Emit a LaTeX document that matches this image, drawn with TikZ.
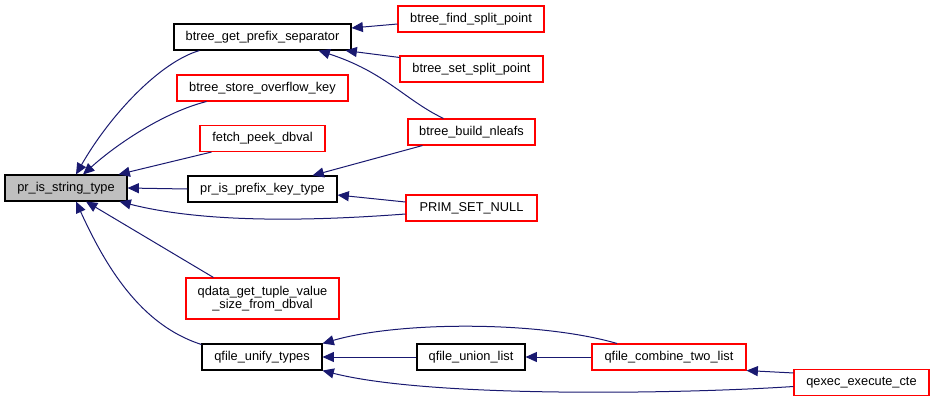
\documentclass[tikz,border=0pt]{standalone}
\usepackage{fontspec}
\setmainfont{Liberation Sans}
\usetikzlibrary{arrows.meta,calc}
\definecolor{edgeblue}{RGB}{25,25,112}
\definecolor{rootgray}{RGB}{191,191,191}

\begin{document}
\begin{tikzpicture}[x=0.75pt,y=-0.75pt,
    fn/.style={draw=black, line width=0.8pt, inner sep=0pt, minimum height=19.5pt,
        font=\fontsize{9.6}{9.75}\selectfont, align=center},
    ext/.style={fn, draw=red},
    call/.style={edgeblue, line width=0.75pt, -{Triangle[length=8.5pt,width=7.5pt]}}]
    \useasboundingbox (0,0) rectangle (935,401);
    % Root function
    \node[fn, fill=rootgray, minimum width=91.5pt] (str) at (66,188) {pr\_is\_string\_type};
    % Direct callers
    \node[fn,  minimum width=132.75pt] (sep)   at (262.5,37)    {btree\_get\_prefix\_separator};
    \node[ext, minimum width=128.25pt] (ovf)   at (262.5,88)    {btree\_store\_overflow\_key};
    \node[ext, minimum width=93.75pt]  (peek)  at (262.5,138.5) {fetch\_peek\_dbval};
    \node[fn,  minimum width=111.75pt] (pfx)   at (262.5,189)   {pr\_is\_prefix\_key\_type};
    \node[ext, minimum width=114.75pt, minimum height=30.75pt] (qdata) at (262.5,298.5)
        {qdata\_get\_tuple\_value\\\_size\_from\_dbval};
    \node[fn,  minimum width=90pt]     (unify) at (262,357)     {qfile\_unify\_types};
    % Second level
    \node[ext, minimum width=109.5pt]  (find)   at (471,19)    {btree\_find\_split\_point};
    \node[ext, minimum width=107.25pt] (setsp)  at (471.5,69)  {btree\_set\_split\_point};
    \node[ext, minimum width=95.25pt]  (nleafs) at (471.5,132) {btree\_build\_nleafs};
    \node[ext, minimum width=98.25pt]  (prim)   at (471.5,208) {PRIM\_SET\_NULL};
    \node[fn,  minimum width=81pt]     (union)  at (471,357)   {qfile\_union\_list};
    \node[ext, minimum width=115.5pt]  (comb)   at (669,357)   {qfile\_combine\_two\_list};
    \node[ext, minimum width=101.25pt] (cte)    at (861.5,382.5) {qexec\_execute\_cte};
    % Calls into pr_is_string_type
    \draw[call] ($(sep.south west)+(26,0)$) .. controls (160,62) and (110,115) .. ($(str.north)+(10,0)$);
    \draw[call] ($(ovf.south west)+(30,0)$) .. controls (165,112) and (118,143) .. ($(str.north)+(17,0)$);
    \draw[call] ($(peek.south west)+(12,0)$) -- ($(str.north east)+(-9,0)$);
    \draw[call] (pfx.west) -- (str.east);
    \draw[call] ($(qdata.north west)+(28,0)$) -- ($(str.south)+(20,0)$);
    \draw[call] ($(unify.north west)+(0,1)$) .. controls (140,325) and (105,265) .. ($(str.south)+(10,0)$);
    \draw[call] ($(prim.west)+(0,6)$) .. controls (300,222) and (200,222) .. ($(str.south east)+(-8,0)$);
    % Calls into btree_get_prefix_separator
    \draw[call] ($(find.west)+(0,5)$) -- ($(sep.east)+(0,-9)$);
    \draw[call] ($(setsp.north west)+(0,2)$) -- ($(sep.south east)+(-6,0)$);
    \draw[call] ($(nleafs.north)+(-28,0)$) .. controls (405,100) and (385,72) .. ($(sep.south)+(56,0)$);
    % Calls into pr_is_prefix_key_type
    \draw[call] ($(nleafs.south west)+(15,0)$) -- ($(pfx.north east)+(-25,0)$);
    \draw[call] ($(prim.west)+(0,-6)$) -- ($(pfx.east)+(0,6)$);
    % Calls into qfile_unify_types
    \draw[call] ($(comb.north)+(-52,0)$) .. controls (540,321) and (400,321) .. (unify.north east);
    \draw[call] (union.west) -- (unify.east);
    \draw[call] ($(cte.west)+(0,4)$) .. controls (680,394) and (430,398) .. (unify.south east);
    % Remaining calls
    \draw[call] (comb.west) -- (union.east);
    \draw[call] ($(cte.north west)+(0,4)$) -- (comb.south east);
\end{tikzpicture}
\end{document}
